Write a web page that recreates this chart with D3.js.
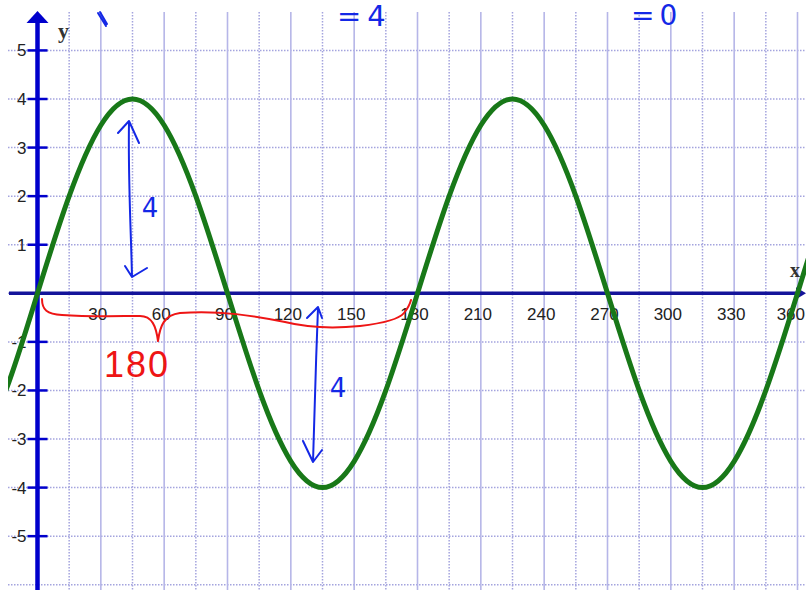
<!DOCTYPE html>
<html>
<head>
<meta charset="utf-8">
<script src="https://cdn.jsdelivr.net/npm/d3@7"></script>
<style>
  html, body { margin: 0; padding: 0; background: #fff; }
  svg { display: block; }
</style>
</head>
<body>
<div id="chart"></div>
<script>
// values (degrees / y)
const curveX = [-30, -15, 0, 15, 30, 45, 60, 75, 90, 105, 120, 135, 150, 165, 180,
  195, 210, 225, 240, 255, 270, 285, 300, 315, 330, 345, 360, 375, 390];
const curveY = [-3.46, -2, 0, 2, 3.46, 4, 3.46, 2, 0, -2, -3.46, -4, -3.46, -2, 0,
  2, 3.46, 4, 3.46, 2, 0, -2, -3.46, -4, -3.46, -2, 0, 2, 3.46];

const xLabels = [30, 60, 90, 120, 150, 180, 210, 240, 270, 300, 330, 360];
const xMinorGrid = [15, 45, 75, 105, 135, 165, 195, 225, 255, 285, 315, 345];
const xMajorGrid = [30, 60, 90, 120, 150, 180, 210, 240, 270, 300, 330, 360];
const yLabels = [-5, -4, -3, -2, -1, 1, 2, 3, 4, 5];
const yGrid = [-6, -5, -4, -3, -2, -1, 0, 1, 2, 3, 4, 5];

const width = 806;
const height = 590;

const x = d3.scaleLinear().domain([0, 360]).range([37.5, 797.5]);
const y = d3.scaleLinear().domain([0, 4]).range([293.3, 99]);

const gridTop = 12;
const gridLeft = 8;

let svg = d3.select('#chart')
  .append('svg')
  .attr('width', width)
  .attr('height', height);

svg.append('clipPath')
  .attr('id', 'plotClip')
  .append('rect')
  .attr('x', gridLeft)
  .attr('y', 0)
  .attr('width', width - gridLeft)
  .attr('height', height);

// grid
svg.append('g')
  .selectAll('line')
  .data(yGrid)
  .enter()
  .append('line')
  .attr('x1', gridLeft)
  .attr('x2', width)
  .attr('y1', function (d) { return y(d); })
  .attr('y2', function (d) { return y(d); })
  .attr('stroke', '#a4a4de')
  .attr('stroke-width', 1.5)
  .attr('stroke-dasharray', '1.5,1.5');

svg.append('g')
  .selectAll('line')
  .data(xMinorGrid)
  .enter()
  .append('line')
  .attr('x1', function (d) { return x(d); })
  .attr('x2', function (d) { return x(d); })
  .attr('y1', gridTop)
  .attr('y2', height)
  .attr('stroke', '#a4a4de')
  .attr('stroke-width', 1.5)
  .attr('stroke-dasharray', '1.5,1.5');

svg.append('g')
  .selectAll('line')
  .data(xMajorGrid)
  .enter()
  .append('line')
  .attr('x1', function (d) { return x(d); })
  .attr('x2', function (d) { return x(d); })
  .attr('y1', gridTop)
  .attr('y2', height)
  .attr('stroke', '#b6b6e8')
  .attr('stroke-width', 1.6);

// axes
svg.append('line')
  .attr('x1', gridLeft + 1)
  .attr('x2', width - 8)
  .attr('y1', y(0))
  .attr('y2', y(0))
  .attr('stroke', '#14149a')
  .attr('stroke-width', 3.5);

svg.append('path')
  .attr('d', 'M' + width + ',' + y(0) + ' L' + (width - 10) + ',' + (y(0) - 6) + ' L' + (width - 10) + ',' + (y(0) + 6) + 'Z')
  .attr('fill', '#14149a');

svg.append('line')
  .attr('x1', x(0))
  .attr('x2', x(0))
  .attr('y1', gridTop + 6)
  .attr('y2', height)
  .attr('stroke', '#0000cc')
  .attr('stroke-width', 4.5);

svg.append('path')
  .attr('d', 'M' + x(0) + ',' + (gridTop - 1) + ' L' + (x(0) - 11) + ',' + (gridTop + 11) + ' L' + (x(0) + 11) + ',' + (gridTop + 11) + 'Z')
  .attr('fill', '#0000cc');

svg.append('g')
  .selectAll('line')
  .data(yLabels)
  .enter()
  .append('line')
  .attr('x1', x(0) - 10)
  .attr('x2', x(0) + 10)
  .attr('y1', function (d) { return y(d); })
  .attr('y2', function (d) { return y(d); })
  .attr('stroke', '#0000cc')
  .attr('stroke-width', 2.5);

// tick labels
svg.append('g')
  .selectAll('text')
  .data(yLabels)
  .enter()
  .append('text')
  .attr('x', x(0) - 11)
  .attr('y', function (d) { return y(d) + 6; })
  .style('text-anchor', 'end')
  .style('font-family', 'Liberation Sans, Arial, sans-serif')
  .style('font-size', '17px')
  .style('fill', '#222')
  .text(function (d) { return d; });

// last label would run off the right edge, so pin its end to it
svg.append('g')
  .selectAll('text')
  .data(xLabels)
  .enter()
  .append('text')
  .attr('x', function (d, i) { return i === xLabels.length - 1 ? width - 1 : x(d) - 3; })
  .attr('y', 320)
  .style('text-anchor', function (d, i) { return i === xLabels.length - 1 ? 'end' : 'middle'; })
  .style('font-family', 'Liberation Sans, Arial, sans-serif')
  .style('font-size', '17px')
  .style('fill', '#222')
  .text(function (d) { return d; });

svg.append('text')
  .attr('x', 58)
  .attr('y', 38)
  .style('font-family', 'Liberation Serif, serif')
  .style('font-weight', 'bold')
  .style('font-size', '22px')
  .style('fill', '#333')
  .text('y');

svg.append('text')
  .attr('x', 790)
  .attr('y', 277)
  .style('font-family', 'Liberation Serif, serif')
  .style('font-weight', 'bold')
  .style('font-size', '20px')
  .style('fill', '#333')
  .text('x');

// the sine curve
let points = curveX.map(function (d, i) { return [d, curveY[i]]; });

let line = d3.line()
  .x(function (d) { return x(d[0]); })
  .y(function (d) { return y(d[1]); })
  .curve(d3.curveNatural);

svg.append('path')
  .datum(points)
  .attr('clip-path', 'url(#plotClip)')
  .attr('d', line)
  .attr('fill', 'none')
  .attr('stroke', '#187818')
  .attr('stroke-width', 5);

// handwritten notes
const blue = '#1428e6';
const red = '#ee1515';

let notes = svg.append('g')
  .attr('fill', 'none')
  .attr('stroke-width', 2)
  .attr('stroke-linecap', 'round')
  .attr('stroke-linejoin', 'round');

notes.append('path')
  .attr('d', 'M129,122 C128,180 131,230 132,277 M118,133 L129,121 L139,143 M125,266 L132,277 L147,268')
  .attr('stroke', blue);

notes.append('path')
  .attr('d', 'M318,308 C316,360 314,420 313,462 M307,318 L318,307 L322,318 M303,441 L313,462 L322,450')
  .attr('stroke', blue);

notes.append('path')
  .attr('d', 'M98,13 L106,26 M100,12 L107,24')
  .attr('stroke', blue);

notes.append('path')
  .attr('d', 'M42,299 C42,310 47,314 62,315 C90,317 120,316 140,316 C152,316 156,326 158,341 ' +
    'C160,326 164,315 180,313 C220,310 255,316 285,322 C305,327 330,329 360,326 C385,323 400,318 404,313 C408,308 410,304 411,300')
  .attr('stroke', red);

svg.append('text')
  .attr('x', 150)
  .attr('y', 217)
  .style('text-anchor', 'middle')
  .style('font-family', 'DejaVu Sans, sans-serif')
  .style('font-size', '26px')
  .style('fill', blue)
  .text('4');

svg.append('text')
  .attr('x', 338)
  .attr('y', 397)
  .style('text-anchor', 'middle')
  .style('font-family', 'DejaVu Sans, sans-serif')
  .style('font-size', '26px')
  .style('fill', blue)
  .text('4');

svg.append('text')
  .attr('x', 137)
  .attr('y', 377)
  .style('text-anchor', 'middle')
  .style('font-family', 'Liberation Sans, sans-serif')
  .style('font-size', '36px')
  .style('letter-spacing', '2px')
  .style('fill', red)
  .text('180');

svg.append('text')
  .attr('x', 337)
  .attr('y', 26)
  .style('font-family', 'DejaVu Sans, sans-serif')
  .style('font-size', '29px')
  .style('letter-spacing', '6px')
  .style('fill', blue)
  .text('=4');

svg.append('text')
  .attr('x', 631)
  .attr('y', 25)
  .style('font-family', 'DejaVu Sans, sans-serif')
  .style('font-size', '28px')
  .style('letter-spacing', '5px')
  .style('fill', blue)
  .text('=0');
</script>
</body>
</html>
